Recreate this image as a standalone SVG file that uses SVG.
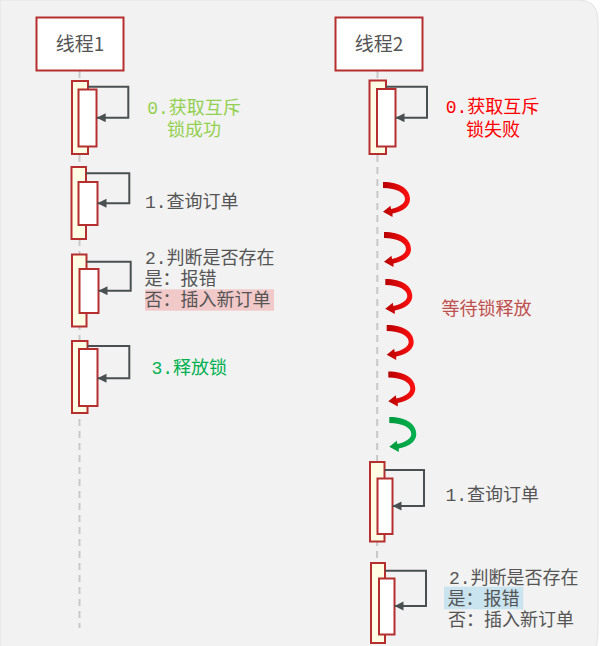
<svg xmlns="http://www.w3.org/2000/svg" width="601" height="646" viewBox="0 0 601 646">
  <defs>
    <style>
      .title { font-family: "Noto Sans CJK SC", "Liberation Sans", sans-serif; font-size: 19px; fill: #555; text-anchor: middle; }
      .lbl { font-family: "Liberation Mono", "Noto Sans CJK SC", monospace; font-size: 18px; fill: #555; }
      .life { stroke: #c8c8c8; stroke-width: 2; stroke-dasharray: 7 5; fill: none; }
      .hdr { fill: #fff; stroke: #b52f2f; stroke-width: 2; }
      .actO { fill: #fffde3; stroke: #b52f2f; stroke-width: 2; }
      .actI { fill: #fff; stroke: #b52f2f; stroke-width: 2; }
      .self { fill: none; stroke: #4a5052; stroke-width: 2; marker-end: url(#ah); }
    </style>
    <marker id="ah" markerUnits="userSpaceOnUse" markerWidth="10" markerHeight="10" refX="9" refY="4.5" orient="auto">
      <path d="M0,0 L9,4.5 L0,9 Z" fill="#4a5052"/>
    </marker>
    <linearGradient id="gRed" x1="0" y1="0" x2="1" y2="0">
      <stop offset="0" stop-color="#b80000"/>
      <stop offset="1" stop-color="#ff1010"/>
    </linearGradient>
    <linearGradient id="gGreen" x1="0" y1="0" x2="1" y2="0">
      <stop offset="0" stop-color="#009a3e"/>
      <stop offset="1" stop-color="#00b050"/>
    </linearGradient>
    <path id="curl" d="M0 0 C17 0 27 7 27 17 C27 24 21 29 9.5 31.5 L9.5 35 L0 29.7 L7.5 23.7 L8 27 C17 25 22 21 22 17 C22 11 14 6 0 6 Z"/>
  </defs>

  <rect x="0" y="0" width="601" height="646" fill="#fff"/>
  <path d="M0 0 H578 Q598 0 598 20 V626 C598 638 597 644 595 652 H0 Z" fill="#f2f2f2" stroke="#e2e2e2" stroke-width="1"/>

  <g id="lifelines">
    <line class="life" x1="79.5" y1="71" x2="79.5" y2="628"/>
    <line class="life" x1="377.5" y1="71" x2="377" y2="640"/>
  </g>

  <g id="thread1">
    <rect class="hdr" x="36.5" y="17.5" width="87" height="53"/>
    <text class="title" x="80" y="51">线程1</text>
  </g>
  <g id="thread2">
    <rect class="hdr" x="335.5" y="17.5" width="87" height="53"/>
    <text class="title" x="379" y="51">线程2</text>
  </g>

  <g id="t1-act0">
    <rect class="actO" x="72" y="81" width="16" height="73"/>
    <rect class="actI" x="78.5" y="89.5" width="18" height="57"/>
  </g>
  <g id="t1-act1">
    <rect class="actO" x="71.5" y="167" width="14.5" height="72"/>
    <rect class="actI" x="78.5" y="182" width="19" height="43"/>
  </g>
  <g id="t1-act2">
    <rect class="actO" x="72" y="254.5" width="14.5" height="72"/>
    <rect class="actI" x="79.5" y="269" width="19" height="44"/>
  </g>
  <g id="t1-act3">
    <rect class="actO" x="72" y="341" width="15.5" height="72"/>
    <rect class="actI" x="79" y="349" width="18.5" height="57"/>
  </g>

  <g id="t2-act0">
    <rect class="actO" x="369.5" y="80.5" width="16.5" height="73.5"/>
    <rect class="actI" x="377" y="89" width="18.5" height="57.5"/>
  </g>
  <g id="t2-act1">
    <rect class="actO" x="370" y="462" width="14.5" height="79.5"/>
    <rect class="actI" x="377.5" y="478.5" width="15" height="55.5"/>
  </g>
  <g id="t2-act2">
    <rect class="actO" x="371" y="563" width="14" height="80"/>
    <rect class="actI" x="379" y="578.5" width="15.5" height="56"/>
  </g>

  <g id="connectors">
    <polyline class="self" points="88,86.7 128.3,86.7 128.3,117.7 96.7,117.7"/>
    <polyline class="self" points="86,173.3 129.3,173.3 129.3,203.3 97.5,203.3"/>
    <polyline class="self" points="86.5,261.7 130.7,261.7 130.7,290.7 98.5,290.7"/>
    <polyline class="self" points="87.5,346 129.3,346 129.3,378.3 97.5,378.3"/>
    <polyline class="self" points="386,86.7 427,86.7 427,117.7 395.5,117.7"/>
    <polyline class="self" points="384.5,470 424,470 424,506 392.5,506"/>
    <polyline class="self" points="385,570.7 426,570.7 426,606 394.5,606"/>
  </g>

  <g id="wait-arrows">
    <use href="#curl" fill="url(#gRed)" transform="translate(383,182)"/>
    <use href="#curl" fill="url(#gRed)" transform="translate(384,232)"/>
    <use href="#curl" fill="url(#gRed)" transform="translate(385.3,279)"/>
    <use href="#curl" fill="url(#gRed)" transform="translate(386.7,325)"/>
    <use href="#curl" fill="url(#gRed)" transform="translate(388.3,371.5)"/>
    <use href="#curl" fill="url(#gGreen)" transform="translate(389.3,417)"/>
  </g>

  <g id="t1-labels">
    <text class="lbl" x="194" y="114" text-anchor="middle" style="fill:#92d050">0.获取互斥</text>
    <text class="lbl" x="194" y="136" text-anchor="middle" style="fill:#92d050">锁成功</text>
    <text class="lbl" x="145" y="208">1.查询订单</text>
    <text class="lbl" x="145" y="264">2.判断是否存在</text>
    <text class="lbl" x="144.5" y="285">是：报错</text>
    <rect x="145" y="289.3" width="129" height="21.4" fill="#f2c9c9"/>
    <text class="lbl" x="144.5" y="306">否：插入新订单</text>
    <text class="lbl" x="151.5" y="374" style="fill:#00b050">3.释放锁</text>
  </g>

  <g id="t2-labels">
    <text class="lbl" x="492.5" y="113" text-anchor="middle" style="fill:#ff0000">0.获取互斥</text>
    <text class="lbl" x="493" y="136" text-anchor="middle" style="fill:#ff0000">锁失败</text>
    <text class="lbl" x="441.5" y="315" style="fill:#c0504d;font-family:'Noto Sans CJK SC',sans-serif">等待锁释放</text>
    <text class="lbl" x="445.5" y="501">1.查询订单</text>
    <text class="lbl" x="449" y="584">2.判断是否存在</text>
    <rect x="444" y="586.7" width="79.3" height="22.6" fill="#c9e3ef"/>
    <text class="lbl" x="447.5" y="605">是：报错</text>
    <text class="lbl" x="448" y="626">否：插入新订单</text>
  </g>
</svg>
